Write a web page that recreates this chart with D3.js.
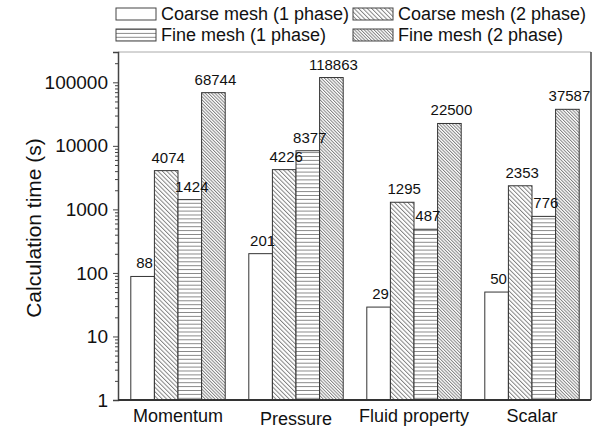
<!DOCTYPE html>
<html>
<head>
<meta charset="utf-8">
<script src="https://cdn.jsdelivr.net/npm/d3@7"></script>
<style>
  body { margin: 0; background: #fff; }
  text { font-family: "Liberation Sans", Arial, sans-serif; fill: #111; }
</style>
</head>
<body>
<div id="chart"></div>
<script>
const WIDTH = 598, HEIGHT = 431;
const MARGIN = { LEFT: 118, RIGHT: 7, TOP: 52, BOTTOM: 31 };

// data
const categories = ["Momentum", "Pressure", "Fluid property", "Scalar"];
const seriesNames = ["Coarse mesh (1 phase)", "Coarse mesh (2 phase)", "Fine mesh (1 phase)", "Fine mesh (2 phase)"];
const coarse1 = [88, 201, 29, 50];
const coarse2 = [4074, 4226, 1295, 2353];
const fine1 = [1424, 8377, 487, 776];
const fine2 = [68744, 118863, 22500, 37587];
const yMajorTicks = [1, 10, 100, 1000, 10000, 100000];
const yMax = 300000;

const seriesValues = [coarse1, coarse2, fine1, fine2];
const fills = ["#fff", "url(#hatchCoarse)", "url(#hatchHoriz)", "url(#hatchFine)"];

const svg = d3.select("#chart").append("svg")
    .attr("width", WIDTH)
    .attr("height", HEIGHT);

// hatch patterns
const defs = svg.append("defs");
function diagPattern(id, step) {
    const p = defs.append("pattern")
        .attr("id", id)
        .attr("patternUnits", "userSpaceOnUse")
        .attr("width", step)
        .attr("height", 10)
        .attr("patternTransform", "rotate(-45)");
    p.append("rect").attr("width", step).attr("height", 10).attr("fill", "#fff");
    p.append("line").attr("x1", 0.5).attr("y1", 0).attr("x2", 0.5).attr("y2", 10)
        .attr("stroke", "#777").attr("stroke-width", 0.9);
}
diagPattern("hatchCoarse", 3.1);
diagPattern("hatchFine", 2.3);
const hp = defs.append("pattern")
    .attr("id", "hatchHoriz")
    .attr("patternUnits", "userSpaceOnUse")
    .attr("width", 10)
    .attr("height", 3.9);
hp.append("rect").attr("width", 10).attr("height", 3.9).attr("fill", "#fff");
hp.append("line").attr("x1", 0).attr("y1", 0.5).attr("x2", 10).attr("y2", 0.5)
    .attr("stroke", "#888").attr("stroke-width", 1);

// scales
const x0 = d3.scaleBand()
    .domain(categories)
    .range([MARGIN.LEFT + 1, WIDTH - MARGIN.RIGHT])
    .paddingInner(0.2)
    .paddingOuter(0.1);

const x1 = d3.scaleBand()
    .domain(d3.range(seriesValues.length))
    .range([0, x0.bandwidth()]);

const y = d3.scaleLog()
    .domain([1, yMax])
    .range([HEIGHT - MARGIN.BOTTOM, MARGIN.TOP]);

// bars
const groups = svg.selectAll(".cat")
    .data(categories)
    .enter()
    .append("g")
    .attr("class", "cat")
    .attr("transform", d => `translate(${x0(d)},0)`);

groups.each(function (cat, ci) {
    const g = d3.select(this);
    seriesValues.forEach((vals, si) => {
        g.append("rect")
            .attr("x", x1(si))
            .attr("y", y(vals[ci]))
            .attr("width", x1.bandwidth())
            .attr("height", y(1) - y(vals[ci]))
            .attr("fill", fills[si])
            .attr("stroke", "#333")
            .attr("stroke-width", 1);
    });
    seriesValues.forEach((vals, si) => {
        g.append("text")
            .attr("x", x1(si) + x1.bandwidth() / 2 + 2)
            .attr("y", y(vals[ci]) - 8)
            .attr("text-anchor", "middle")
            .style("font-size", "15px")
            .text(vals[ci]);
    });
});

// frame: top and right
svg.append("line")
    .attr("x1", MARGIN.LEFT).attr("y1", MARGIN.TOP)
    .attr("x2", WIDTH - MARGIN.RIGHT).attr("y2", MARGIN.TOP)
    .attr("stroke", "#aaa").attr("stroke-width", 1);
svg.append("line")
    .attr("x1", WIDTH - MARGIN.RIGHT).attr("y1", MARGIN.TOP)
    .attr("x2", WIDTH - MARGIN.RIGHT).attr("y2", HEIGHT - MARGIN.BOTTOM)
    .attr("stroke", "#444").attr("stroke-width", 1.5);

// y axis, minor ticks first
const minorTicks = [];
for (let k = 0; k <= 5; k++) {
    for (let m = 2; m <= 9; m++) {
        const v = m * Math.pow(10, k);
        if (v < yMax) minorTicks.push(v);
    }
}
svg.append("g")
    .attr("transform", `translate(${MARGIN.LEFT},0)`)
    .call(d3.axisLeft(y).tickValues(minorTicks).tickSize(3).tickFormat(""))
    .call(g => g.select(".domain").remove())
    .selectAll("line").attr("stroke", "#444");

const yAxis = svg.append("g")
    .attr("transform", `translate(${MARGIN.LEFT},0)`)
    .call(d3.axisLeft(y).tickValues(yMajorTicks).tickSize(5).tickPadding(5).tickFormat(d3.format("d")));
yAxis.select(".domain").attr("stroke", "#444").attr("stroke-width", 1.5);
yAxis.selectAll("line").attr("stroke", "#444");
yAxis.selectAll("text")
    .style("font-size", "19px")
    .attr("font-family", "Liberation Sans, Arial, sans-serif")
    .attr("fill", "#111");

// x axis
const xAxis = svg.append("g")
    .attr("transform", `translate(0,${HEIGHT - MARGIN.BOTTOM})`)
    .call(d3.axisBottom(x0).tickSize(0).tickPadding(9));
xAxis.select(".domain")
    .attr("d", `M${MARGIN.LEFT},0H${WIDTH - MARGIN.RIGHT}`)
    .attr("stroke", "#333").attr("stroke-width", 2);
xAxis.selectAll("text")
    .style("font-size", "18px")
    .attr("font-family", "Liberation Sans, Arial, sans-serif")
    .attr("fill", "#111")
    .attr("dy", d => d === "Pressure" ? "0.9em" : "0.72em");

// y title
svg.append("text")
    .attr("transform", `translate(41,${(MARGIN.TOP + HEIGHT - MARGIN.BOTTOM) / 2 + 2}) rotate(-90)`)
    .attr("text-anchor", "middle")
    .style("font-size", "21px")
    .text("Calculation time (s)");

// legend
const legendPos = [
    { x: 116, y: 8 }, { x: 353, y: 8 },
    { x: 116, y: 29 }, { x: 353, y: 29 }
];
const legend = svg.selectAll(".legend")
    .data(seriesNames)
    .enter()
    .append("g")
    .attr("class", "legend")
    .attr("transform", (d, i) => `translate(${legendPos[i].x},${legendPos[i].y})`);
legend.append("rect")
    .attr("width", 40)
    .attr("height", 12)
    .attr("fill", (d, i) => fills[i])
    .attr("stroke", "#444")
    .attr("stroke-width", 1);
legend.append("text")
    .attr("x", 45)
    .attr("y", 12)
    .style("font-size", "18px")
    .text(d => d);
</script>
</body>
</html>
